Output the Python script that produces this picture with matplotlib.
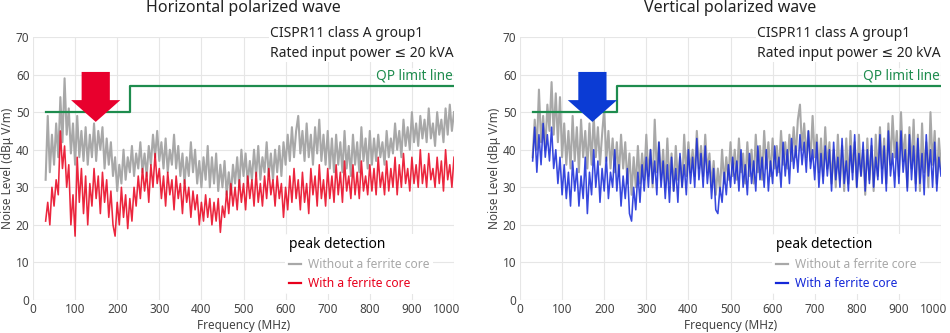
import matplotlib
matplotlib.use("Agg")
import matplotlib.pyplot as plt
from matplotlib.patches import FancyArrow
from matplotlib.transforms import ScaledTranslation
import numpy as np

plt.rcParams["font.family"] = ["Noto Sans", "DejaVu Sans"]

# sweep grid (MHz)
freq = np.arange(30, 1001, 5)

# horizontal polarization, without / with ferrite core (dBuV/m)
h_without = [
    32, 49, 34, 44, 36, 47, 38, 54, 42, 59, 44, 51, 39, 47, 36, 49, 38, 45, 37, 46,
    36, 44, 38, 47, 37, 45, 40, 46, 35, 43, 36, 42, 33, 38, 29, 36, 31, 40, 32, 38,
    34, 41, 33, 39, 35, 42, 34, 39, 33, 41, 36, 44, 38, 45, 37, 42, 35, 43, 34, 40,
    36, 44, 35, 41, 33, 39, 31, 38, 33, 42, 34, 40, 31, 37, 30, 38, 32, 41, 30, 38,
    31, 39, 29, 36, 30, 37, 28, 34, 28, 36, 31, 38, 30, 40, 33, 39, 31, 37, 32, 40,
    33, 41, 32, 38, 34, 42, 33, 39, 32, 40, 34, 41, 33, 42, 36, 44, 37, 46, 38, 45,
    49, 39, 45, 37, 47, 38, 44, 36, 46, 39, 48, 37, 44, 36, 45, 35, 43, 34, 44, 36,
    42, 34, 45, 35, 41, 33, 44, 36, 42, 34, 46, 37, 43, 35, 45, 36, 43, 37, 44, 38,
    42, 36, 45, 38, 43, 39, 47, 40, 45, 38, 48, 41, 46, 40, 50, 42, 47, 41, 49, 43,
    48, 42, 51, 43, 47, 41, 50, 44, 48, 42, 51, 44, 52, 45, 50,
]
h_with = [
    21, 26, 20, 30, 25, 32, 28, 45, 35, 41, 30, 36, 20, 28, 17, 38, 26, 35, 23, 33,
    20, 31, 25, 35, 27, 33, 23, 34, 26, 32, 22, 29, 20, 17, 26, 20, 30, 22, 28, 19,
    27, 21, 30, 25, 33, 27, 35, 29, 34, 26, 36, 30, 39, 31, 35, 27, 33, 25, 34, 28,
    32, 24, 33, 27, 31, 23, 32, 26, 30, 22, 29, 24, 28, 20, 26, 21, 28, 22, 27, 20,
    26, 21, 27, 18, 25, 22, 29, 23, 31, 25, 30, 24, 32, 26, 31, 24, 33, 27, 32, 25,
    34, 26, 31, 25, 33, 27, 35, 28, 32, 25, 33, 27, 31, 22, 30, 24, 33, 26, 35, 27,
    32, 24, 34, 26, 31, 23, 35, 28, 33, 25, 36, 27, 32, 25, 35, 27, 33, 26, 36, 28,
    34, 26, 37, 29, 33, 27, 36, 28, 34, 27, 37, 29, 33, 28, 36, 29, 35, 28, 38, 30,
    34, 28, 37, 29, 35, 30, 38, 28, 36, 30, 39, 31, 35, 29, 38, 31, 36, 30, 40, 31,
    36, 30, 39, 32, 35, 30, 38, 31, 37, 29, 40, 32, 36, 30, 38,
]

# vertical polarization, without / with ferrite core (dBuV/m)
v_without = [
    38, 48, 40, 56, 42, 49, 40, 52, 45, 58, 44, 55, 42, 54, 38, 47, 36, 45, 35, 49,
    37, 46, 34, 48, 38, 45, 35, 47, 36, 49, 38, 46, 36, 44, 51, 37, 45, 35, 43, 34,
    42, 33, 44, 35, 42, 31, 39, 28, 38, 30, 41, 31, 39, 32, 44, 33, 40, 30, 48, 34,
    42, 32, 40, 30, 43, 31, 39, 29, 41, 32, 38, 30, 44, 33, 42, 34, 40, 33, 45, 35,
    41, 33, 44, 34, 39, 30, 37, 28, 35, 29, 40, 31, 38, 32, 42, 33, 40, 32, 43, 34,
    39, 31, 42, 33, 40, 31, 44, 34, 41, 32, 45, 35, 42, 33, 43, 35, 41, 34, 45, 36,
    42, 35, 44, 37, 46, 38, 48, 52, 40, 47, 38, 45, 37, 49, 38, 44, 34, 43, 33, 46,
    35, 42, 31, 40, 30, 44, 32, 41, 29, 43, 31, 45, 34, 42, 30, 44, 33, 40, 28, 43,
    32, 41, 29, 44, 33, 46, 35, 43, 31, 47, 36, 49, 38, 45, 33, 50, 37, 44, 30, 46,
    35, 48, 31, 44, 29, 47, 34, 42, 30, 50, 36, 45, 31, 43, 35,
]
v_with = [
    37, 46, 34, 44, 36, 47, 38, 44, 37, 46, 35, 40, 31, 38, 28, 36, 27, 34, 25, 37,
    29, 35, 25, 33, 27, 38, 23, 34, 28, 40, 30, 37, 26, 35, 29, 38, 27, 34, 30, 40,
    29, 36, 25, 33, 27, 35, 23, 21, 30, 24, 34, 26, 36, 29, 38, 30, 40, 31, 37, 28,
    42, 30, 37, 27, 36, 26, 38, 29, 35, 26, 39, 30, 36, 28, 40, 31, 38, 30, 43, 32,
    39, 30, 41, 31, 37, 27, 35, 24, 23, 30, 26, 34, 28, 36, 30, 38, 31, 37, 29, 40,
    30, 36, 28, 39, 31, 37, 29, 41, 32, 38, 30, 40, 29, 37, 31, 41, 33, 38, 30, 42,
    33, 40, 31, 43, 35, 41, 34, 44, 36, 42, 34, 45, 35, 40, 32, 42, 30, 39, 31, 41,
    33, 40, 29, 42, 32, 38, 30, 43, 31, 37, 29, 41, 32, 44, 30, 39, 33, 42, 29, 40,
    31, 43, 30, 38, 32, 44, 31, 41, 29, 45, 33, 39, 30, 42, 31, 45, 34, 40, 29, 44,
    32, 41, 29, 43, 31, 39, 28, 44, 33, 40, 30, 42, 29, 38, 33,
]

# QP limit line (CISPR11 class A group1)
limit_freq = [30, 230, 230, 1000]
limit_level = [50, 50, 57, 57]

panels = [
    ("Horizontal polarized wave", h_without, h_with, "#e8001c", "#e8002d", 149),
    ("Vertical polarized wave", v_without, v_with, "#1428d8", "#0b3bd4", 172),
]
axes_left = [33 / 950, 520 / 950]

GRAY = "#a8a8a8"
GREEN = "#1e8c4e"
TXT = "#444444"

fig = plt.figure(figsize=(9.5, 3.33), dpi=100)

for i, (title, without, with_core, col, arrow_col, arrow_x) in enumerate(panels):
    ax = fig.add_axes([axes_left[i], 33 / 333, 421 / 950, 263 / 333])
    ax.plot(freq, without, color=GRAY, lw=1.5, label="Without a ferrite core", zorder=3)
    ax.plot(freq, with_core, color=col, lw=1.15, alpha=0.85, label="With a ferrite core", zorder=4)
    ax.plot(limit_freq, limit_level, color=GREEN, lw=1.6, zorder=5)

    ax.add_patch(FancyArrow(arrow_x, 60.7, 0, -13.3, width=67, head_width=117,
                            head_length=5.8, length_includes_head=True,
                            color=arrow_col, lw=0, zorder=6))

    ax.set_xlim(0, 1000)
    ax.set_ylim(0, 70)
    ax.set_xticks(np.arange(0, 1001, 100))
    ax.set_yticks(np.arange(0, 71, 10))
    ax.grid(True, color="#e6e6e6", lw=0.8, zorder=0)
    ax.set_axisbelow(True)
    for s in ax.spines.values():
        s.set_visible(False)
    ax.tick_params(length=0, labelsize=8.5, colors=TXT, pad=2.5)
    ax.set_xlabel("Frequency (MHz)", fontsize=8.5, color=TXT, labelpad=2)
    ax.set_ylabel("Noise Level (dBμ V/m)", fontsize=8.5, color=TXT, labelpad=1)

    # last x tick label is pulled inward, as in the reference
    last = ax.get_xticklabels()[-1]
    last.set_transform(last.get_transform() + ScaledTranslation(-7 / 100, 0, fig.dpi_scale_trans))

    fig.text(axes_left[i] + 421 / 950 / 2, 1 - 8 / 333, title, ha="center", va="center",
             fontsize=11.5, color="#222222")
    ax.text(0.564, 0.977, "CISPR11 class A group1\nRated input power ≤ 20 kVA",
            transform=ax.transAxes, ha="left", va="center", fontsize=10,
            color="#222222", linespacing=1.45, zorder=7,
            bbox=dict(facecolor="white", edgecolor="none", pad=1))
    ax.text(0.996, 0.852, "QP limit line", transform=ax.transAxes, ha="right",
            va="center", fontsize=9.8, color=GREEN, zorder=7,
            bbox=dict(facecolor="white", edgecolor="none", alpha=0.7, pad=0.5))

    leg = ax.legend(loc="lower left", bbox_to_anchor=(0.585, 0.0), title="peak detection",
                    fontsize=8.7, title_fontsize=10, frameon=True, framealpha=1,
                    edgecolor="none", handlelength=1.0, handletextpad=0.55,
                    labelspacing=0.5, labelcolor="linecolor", alignment="left",
                    borderpad=0.3)
    leg.set_zorder(8)
    for h in leg.get_lines():
        h.set_alpha(1)
        h.set_linewidth(1.6)

fig.savefig("out.png", dpi=100)
